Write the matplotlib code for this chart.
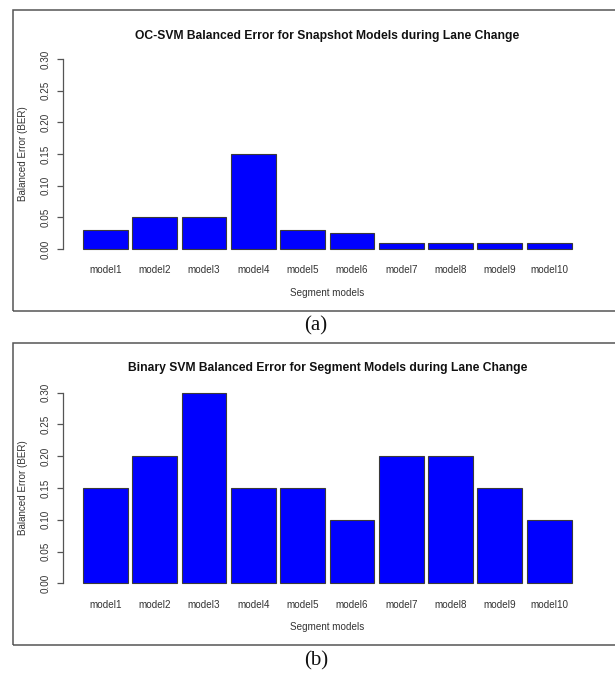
import matplotlib
matplotlib.use("Agg")
import matplotlib.pyplot as plt
from matplotlib.patches import Rectangle

W, H = 615, 673
DPI = 100

models = ["model1", "model2", "model3", "model4", "model5",
          "model6", "model7", "model8", "model9", "model10"]
ber_ocsvm = [0.03, 0.05, 0.05, 0.15, 0.03, 0.025, 0.01, 0.01, 0.01, 0.01]
ber_binary = [0.15, 0.20, 0.30, 0.15, 0.15, 0.10, 0.20, 0.20, 0.15, 0.10]
yticks = [0.00, 0.05, 0.10, 0.15, 0.20, 0.25, 0.30]
ytick_labels = ["0.00", "0.05", "0.10", "0.15", "0.20", "0.25", "0.30"]
title_a = "OC-SVM Balanced Error for Snapshot Models during Lane Change"
title_b = "Binary SVM Balanced Error for Segment Models during Lane Change"
ylabel = "Balanced Error (BER)"
xlabel = "Segment models"

plt.rcParams['font.family'] = ['Liberation Sans', 'DejaVu Sans']

fig = plt.figure(figsize=(W / DPI, H / DPI), dpi=DPI)


def fx(px):
    return px / W


def fy(py):
    return 1 - py / H


def panel(values, title, top, bottom, title_y, box_top, box_bot, cap, cap_y):
    left, right = 63.4, 591.2
    ax = fig.add_axes([fx(left), fy(bottom), fx(right) - fx(left), fy(top) - fy(bottom)])
    xs = [0.6 + 1.1 * i for i in range(len(values))]
    ax.bar(xs, values, width=1.0, color="#0000FF", edgecolor="#3a3a3a", linewidth=0.8)
    ax.set_xlim(-0.336, 11.436)
    ax.set_ylim(-0.012, 0.312)
    for s in ["top", "right", "bottom"]:
        ax.spines[s].set_visible(False)
    ax.spines["left"].set_bounds(0, 0.3)
    ax.spines["left"].set_color("#555555")
    ax.spines["left"].set_linewidth(0.9)
    ax.set_yticks(yticks)
    ax.set_yticklabels(ytick_labels, rotation=90, va="center", fontsize=7.1, color="#333333")
    ax.tick_params(axis="y", length=4.3, width=0.9, color="#555555", pad=5.0)
    ax.set_xticks(xs)
    ax.set_xticklabels(models, fontsize=7.1, color="#333333")
    ax.tick_params(axis="x", length=0, pad=6.2)
    cx = (left + right) / 2
    fig.text(fx(cx), fy(title_y), title, ha="center", va="center",
             fontsize=8.75, fontweight="bold", color="#111111")
    fig.text(fx(23), fy((top + bottom) / 2), ylabel, rotation=90, ha="center",
             va="center", fontsize=7.1, color="#333333")
    fig.text(fx(cx), fy(bottom + 36), xlabel, ha="center", va="center",
             fontsize=7.1, color="#333333")
    rect = Rectangle((fx(13), fy(box_bot)), fx(640) - fx(13), fy(box_top) - fy(box_bot),
                     transform=fig.transFigure, fill=False, edgecolor="#555555",
                     linewidth=1.1, clip_on=False)
    fig.add_artist(rect)
    fig.text(fx(316), fy(cap_y), cap, ha="center", va="center", fontsize=15,
             family=["Liberation Serif", "DejaVu Serif"], color="#111111")


panel(ber_ocsvm, title_a, 51.4, 256.6, 35.7, 9.8, 311.0, "(a)", 325.5)
panel(ber_binary, title_b, 385.1, 590.9, 368.3, 343.3, 644.7, "(b)", 660.5)

fig.savefig("out.png", dpi=DPI)
